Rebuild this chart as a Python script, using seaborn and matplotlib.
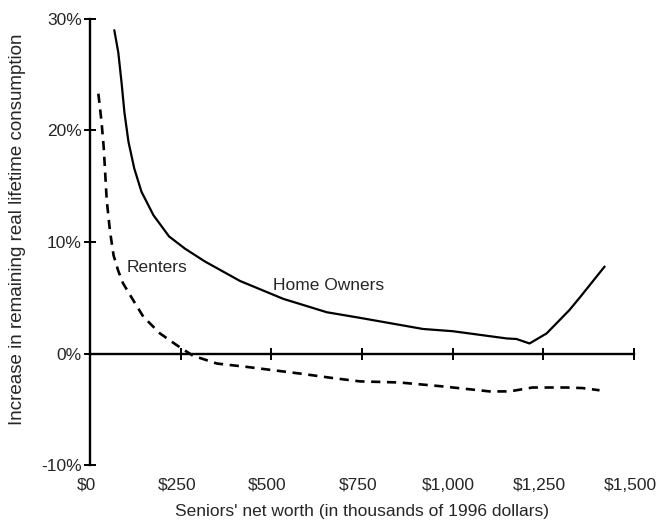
import matplotlib
matplotlib.use("Agg")
import matplotlib.pyplot as plt
import matplotlib.transforms as mtransforms
import seaborn as sns
import pandas as pd

sns.set_style("ticks")
plt.rcParams['font.family'] = ['Liberation Sans', 'DejaVu Sans']

owners_x = [67, 78, 87, 95, 106, 122, 142, 175, 218, 262, 317, 414, 533, 653, 744, 918, 1000, 1149, 1176, 1212, 1259, 1322, 1350, 1419]
owners_y = [29.0, 27.0, 24.3, 21.6, 19.0, 16.6, 14.5, 12.4, 10.5, 9.4, 8.25, 6.5, 4.9, 3.7, 3.2, 2.2, 2.0, 1.35, 1.3, 0.9, 1.8, 3.9, 5.0, 7.8]

renters_x = [23, 27, 32, 38, 46, 55, 65, 78, 91, 115, 147, 193, 239, 284, 350, 432, 579, 669, 744, 854, 972, 1102, 1157, 1220, 1313, 1358, 1405]
renters_y = [23.3, 22.2, 20.7, 18.4, 13.8, 11.0, 8.8, 7.4, 6.3, 5.0, 3.3, 1.8, 0.75, -0.2, -0.9, -1.2, -1.8, -2.2, -2.5, -2.6, -2.95, -3.4, -3.4, -3.05, -3.05, -3.1, -3.3]

x_ticks = [0, 250, 500, 750, 1000, 1250, 1500]
x_tick_labels = ["$0", "$250", "$500", "$750", "$1,000", "$1,250", "$1,500"]
y_ticks = [-10, 0, 10, 20, 30]
y_tick_labels = ["-10%", "0%", "10%", "20%", "30%"]

owners = pd.DataFrame({"x": owners_x, "y": owners_y})
renters = pd.DataFrame({"x": renters_x, "y": renters_y})

fig = plt.figure(figsize=(6.59, 5.25), dpi=100)
ax = fig.add_axes([90/659, 1-465/525, (634-90)/659, (465-19)/525])

sns.lineplot(data=owners, x="x", y="y", ax=ax, color="black", linewidth=1.6, sort=False)
sns.lineplot(data=renters, x="x", y="y", ax=ax, color="black", linewidth=1.9, sort=False,
             linestyle=(0, (3.5, 2.5)))

ax.set_xlim(0, 1500)
ax.set_ylim(-10, 30)
ax.spines['top'].set_visible(False)
ax.spines['right'].set_visible(False)
ax.spines['bottom'].set_position(('data', 0))
for s in ['left', 'bottom']:
    ax.spines[s].set_linewidth(1.7)
    ax.spines[s].set_color('black')

ax.set_xticks(x_ticks)
ax.set_xticklabels([])
ax.tick_params(axis='x', direction='inout', length=8, width=1.4, color='black', labelbottom=False)
ax.set_yticks(y_ticks)
ax.set_yticklabels(y_tick_labels)
ax.tick_params(axis='y', direction='inout', length=8, width=1.4, color='black', labelsize=12.5, pad=2)

sec = ax.secondary_xaxis(0)
sec.set_xticks(x_ticks)
sec.set_xticklabels(x_tick_labels)
sec.tick_params(length=0, labelsize=12.5, pad=9)
sec.spines['bottom'].set_visible(False)
sec.set_xlabel("Seniors' net worth (in thousands of 1996 dollars)", fontsize=12.5, labelpad=8)
shift = mtransforms.ScaledTranslation(-4/100, 0, fig.dpi_scale_trans)
for lbl in sec.get_xticklabels():
    lbl.set_transform(lbl.get_transform() + shift)

ax.set_xlabel("")
ax.set_ylabel("")
fig.text(18/659, 1-229/525, "Increase in remaining real lifetime consumption",
         rotation=90, ha='center', va='center', fontsize=13.5)

ax.text(102, 7.7, "Renters", fontsize=12.5, va='center', ha='left')
ax.text(504, 6.1, "Home Owners", fontsize=12.5, va='center', ha='left')

fig.savefig("out.png", dpi=100)
